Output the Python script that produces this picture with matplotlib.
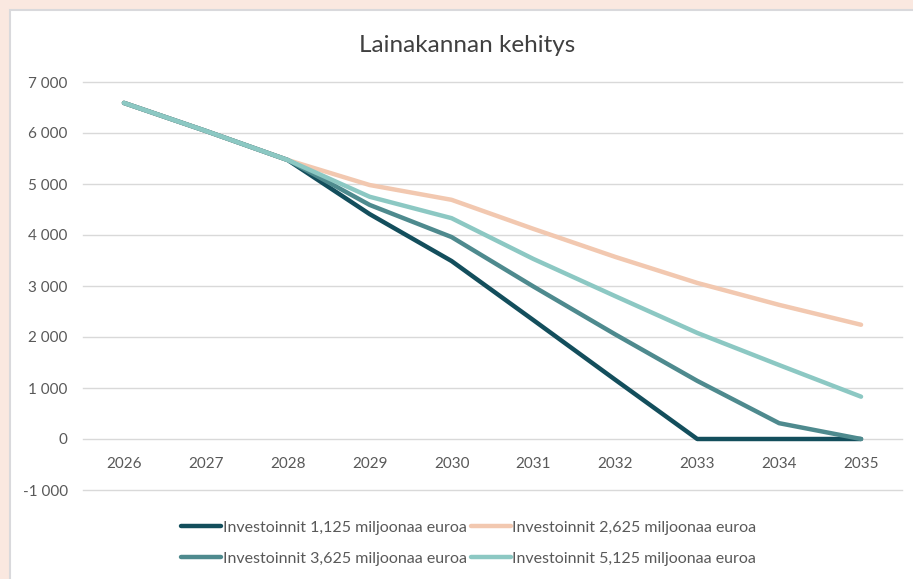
import matplotlib.pyplot as plt
from matplotlib.patches import Rectangle
from matplotlib.ticker import FuncFormatter

years = ["2026", "2027", "2028", "2029", "2030", "2031", "2032", "2033", "2034", "2035"]

inv_1125 = [6590, 6040, 5470, 4410, 3490, 2330, 1160, 0, 0, 0]
inv_2625 = [6590, 6040, 5470, 4980, 4690, 4120, 3570, 3060, 2630, 2240]
inv_3625 = [6590, 6040, 5470, 4590, 3960, 2990, 2050, 1140, 310, 0]
inv_5125 = [6590, 6040, 5470, 4750, 4330, 3530, 2800, 2080, 1450, 830]

labels = [
    "Investoinnit 1,125 miljoonaa euroa",
    "Investoinnit 2,625 miljoonaa euroa",
    "Investoinnit 3,625 miljoonaa euroa",
    "Investoinnit 5,125 miljoonaa euroa",
]
colors = ["#134e5c", "#f2c8b0", "#4e8a8e", "#8cc8c3"]

plt.rcParams["font.family"] = ["Lato", "DejaVu Sans"]

fig = plt.figure(figsize=(9.13, 5.79), dpi=100)
fig.patch.set_facecolor("#fae8e0")
# valkoinen kaaviopaneeli ohuella harmaalla reunalla
fig.patches.append(Rectangle((10 / 913, -0.1), 1.0, 1 - 10 / 579 + 0.1,
                             transform=fig.transFigure, facecolor="white",
                             edgecolor="#d9d9dc", linewidth=1.5, zorder=-5))

ax = fig.add_axes([83 / 913, 1 - 490 / 579, (902 - 83) / 913, (490 - 82) / 579])
ax.set_zorder(2)
ax.set_facecolor("none")

x = range(len(years))
series = [inv_1125, inv_2625, inv_3625, inv_5125]
lines = []
for vals, lab, col in zip(series, labels, colors):
    ln, = ax.plot(x, vals, color=col, lw=3.2, label=lab, solid_capstyle="round",
                  solid_joinstyle="round")
    lines.append(ln)

ax.set_xlim(-0.5, len(years) - 0.5)
ax.set_ylim(-1000, 7000)
ax.set_yticks(range(-1000, 7001, 1000))
ax.yaxis.set_major_formatter(FuncFormatter(lambda v, p: f"{int(v):,}".replace(",", " ")))
ax.grid(axis="y", color="#d9d9d9", lw=1)
for gl in ax.get_ygridlines():
    gl.set_clip_on(False)
ax.set_axisbelow(True)

ax.set_xticks(list(x))
ax.set_xticklabels(years)
ax.spines["bottom"].set_position(("data", 0))
for s in ax.spines.values():
    s.set_visible(False)
ax.tick_params(axis="x", length=0, pad=13, labelsize=11, labelcolor="#595959")
ax.tick_params(axis="y", length=0, pad=11, labelsize=11, labelcolor="#595959")

fig.text(467 / 913, 1 - 45 / 579, "Lainakannan kehitys", ha="center", va="center",
         fontsize=17.5, color="#404040")

# rivijärjestys: 1,125 ja 2,625 ylärivillä
order = [0, 2, 1, 3]
ax.legend([lines[i] for i in order], [labels[i] for i in order],
          loc="upper center", bbox_to_anchor=(0.471, -0.04), ncol=2, frameon=False,
          fontsize=11.5, handlelength=2.5, handletextpad=0.1, columnspacing=0.25,
          labelspacing=1.05, labelcolor="#595959")

fig.savefig("out.png", dpi=100, facecolor=fig.get_facecolor())
